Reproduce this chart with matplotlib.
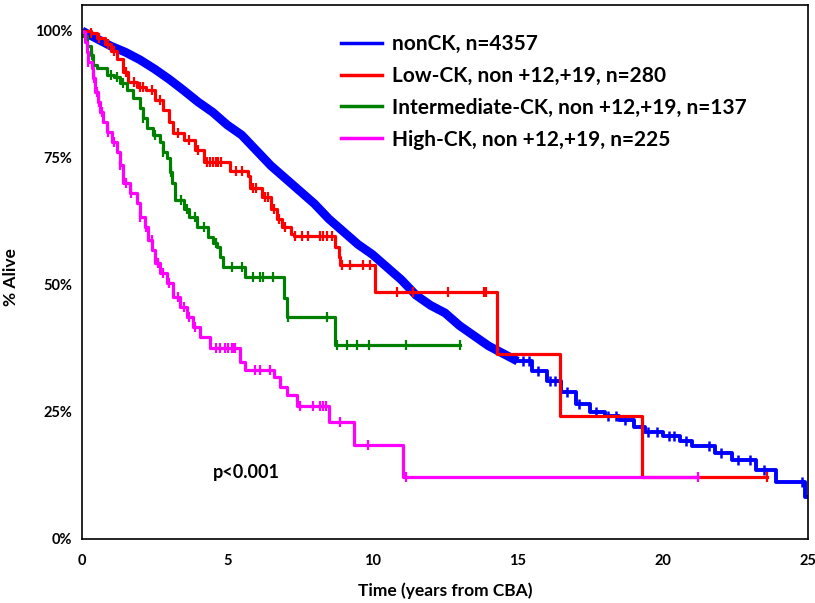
import numpy as np
import matplotlib
matplotlib.use("Agg")
import matplotlib.pyplot as plt
from matplotlib.lines import Line2D

plt.rcParams['font.family'] = ['Lato', 'DejaVu Sans']
plt.rcParams['font.weight'] = 'bold'

# nonCK: dense early part (many censored points -> thick band), sparse tail
blue_t_dense = [0, 0.5, 1.0, 1.5, 2.0, 2.5, 3.0, 3.5, 4.0, 4.5, 5.0, 5.5, 6.0, 6.5, 7.0,
                7.5, 8.0, 8.5, 9.0, 9.5, 10.0, 10.5, 11.0, 11.5, 12.0, 12.5, 13.0, 13.5,
                14.0, 14.5, 15.0]
blue_s_dense = [100, 98.5, 97, 95.8, 94.3, 92.5, 90.5, 88.3, 86, 84, 81.5, 79.5, 76.5, 73.5,
                71, 68.5, 66, 63, 60.5, 58, 56, 53.5, 51, 48, 46, 44.5, 42, 40, 38, 36.5, 35]
blue_t_tail = [15.0, 15.5, 16.0, 16.5, 17.0, 17.5, 18.0, 18.5, 19.0, 19.4, 20.0, 20.6,
               21.0, 21.8, 22.4, 23.2, 23.9, 24.9]
blue_s_tail = [35, 33, 31, 29, 26.5, 25, 24.3, 23.5, 22, 21, 20.3, 19.3, 18.3, 17,
               15.6, 13.6, 11.2, 8.3]
blue_cens = [15.2, 15.4, 15.7, 16.1, 16.3, 16.7, 17.1, 17.7, 18.1, 18.4, 18.7, 19.5, 19.8,
             20.2, 20.4, 20.8, 21.6, 22.0, 22.6, 23.0, 23.5, 24.8]

# Low-CK
red_t = [0, 0.3, 0.5, 0.8, 1.0, 1.2, 1.4, 1.6, 1.9, 2.2, 2.5, 2.8, 3.0, 3.15, 3.5, 3.9, 4.2,
         5.1, 5.7, 5.8, 6.2, 6.5, 6.7, 6.9, 7.2, 7.3, 8.7, 8.85, 8.9, 10.1, 14.3, 16.45, 19.3]
red_s = [100, 99.5, 98.6, 97.5, 96, 94.5, 92, 90, 89, 88.3, 86.5, 84.5, 82, 80, 78.5, 76.5,
         74.2, 72.5, 71.5, 69, 67.3, 65, 63, 61.5, 60, 59.6, 57.5, 55.5, 53.9, 48.6, 36.4,
         24.2, 12.2]
red_cens = [0.3, 0.6, 0.9, 1.1, 1.5, 1.8, 2.0, 2.1, 2.4, 2.7, 3.3, 3.7, 4.0, 4.3, 4.4, 4.5,
            4.6, 4.7, 4.8, 5.3, 5.5, 5.9, 6.0, 6.3, 6.4, 6.6, 6.8, 7.0, 7.34, 7.59, 7.79,
            8.21, 8.31, 8.45, 8.62, 8.97, 9.24, 9.66, 9.93, 10.86, 11.41, 12.59, 13.83, 13.9,
            23.6]
red_end = 23.6

# Intermediate-CK
green_t = [0, 0.05, 0.17, 0.3, 0.38, 0.5, 0.86, 1.1, 1.3, 1.55, 1.76, 2.0, 2.1, 2.24, 2.45,
           2.69, 2.79, 2.93, 3.03, 3.1, 3.21, 3.5, 3.7, 3.97, 4.35, 4.5, 4.66, 4.76, 4.86,
           5.6, 6.95, 7.05, 8.7]
green_s = [100, 99, 97, 95.3, 93.3, 92.7, 91.3, 91, 89.8, 88.4, 86.8, 84.8, 82.9, 80.9, 79.5,
           78.1, 76.2, 75, 72.2, 70, 66.7, 65, 63.4, 61.4, 59.4, 58.3, 57.5, 55.5, 53.5, 51.6,
           47.5, 43.7, 38.2]
green_cens = [0.35, 1.0, 1.2, 1.4, 2.1, 2.5, 2.8, 3.05, 3.4, 3.6, 3.9, 4.2, 4.6, 5.17, 5.52,
              5.9, 6.14, 6.24, 6.59, 7.1, 8.45, 8.79, 9.14, 9.48, 9.9, 11.17, 13.03]
green_end = 13.03

# High-CK
mag_t = [0, 0.05, 0.1, 0.17, 0.2, 0.34, 0.38, 0.45, 0.55, 0.62, 0.72, 0.86, 1.03, 1.2, 1.3,
         1.41, 1.66, 1.9, 2.0, 2.17, 2.28, 2.41, 2.52, 2.69, 2.93, 3.14, 3.38, 3.62, 3.83,
         4.07, 4.4, 5.45, 5.6, 6.6, 6.83, 7.07, 7.41, 8.52, 9.38, 11.05]
mag_s = [100, 99.8, 97.8, 95.9, 93.9, 92.7, 90.7, 88, 86, 84, 82, 80.1, 78.1, 76.2, 73.6, 70,
         68.1, 66.1, 63.4, 61.4, 58.9, 56.9, 54.3, 52.4, 50.4, 47.6, 45.7, 43.7, 41.7, 39.8,
         37.6, 34.9, 33.3, 31.9, 29.9, 28.3, 26.2, 23, 18.5, 12.2]
mag_cens = [0.2, 0.4, 0.5, 0.6, 0.7, 0.9, 1.1, 1.3, 1.5, 1.7, 2.0, 2.2, 2.4, 2.6, 2.8, 3.0,
            3.3, 3.5, 3.7, 3.9, 4.6, 4.76, 4.93, 5.03, 5.17, 5.2, 5.28, 5.97, 6.14, 6.48,
            7.52, 7.97, 8.21, 8.31, 8.41, 8.9, 9.86, 11.17, 21.2]
mag_end = 21.2

labels = ['nonCK, n=4357', 'Low-CK, non +12,+19, n=280',
          'Intermediate-CK, non +12,+19, n=137', 'High-CK, non +12,+19, n=225']
colors = ['#0000ff', '#ff0000', '#008000', '#ff00ff']

xticks = [0, 5, 10, 15, 20, 25]
yticks = [0, 25, 50, 75, 100]

fig = plt.figure(figsize=(8.15, 6.03), dpi=100)
ax = fig.add_axes([82/815, 1-539/603, (808-82)/815, (539-5)/603])


def draw_km(t, s, cens, color, t_end):
    t = np.array(t)
    s = np.array(s)
    ax.step(np.append(t, t_end), np.append(s, s[-1]), where='post', color=color, lw=2.3)
    idx = np.searchsorted(t, cens, side='right') - 1
    ax.plot(cens, s[idx], ls='none', marker='|', ms=7, mew=1.6, color=color)


# blue
ax.plot(blue_t_dense, blue_s_dense, color=colors[0], lw=6.3, solid_capstyle='butt')
bt = np.array(blue_t_tail)
bs = np.array(blue_s_tail)
ax.step(np.append(bt, 25), np.append(bs, bs[-1]), where='post', color=colors[0], lw=2.8)
idx = np.searchsorted(bt, blue_cens, side='right') - 1
ax.plot(blue_cens, bs[idx], ls='none', marker='|', ms=7, mew=1.8, color=colors[0])

draw_km(red_t, red_s, red_cens, colors[1], red_end)
draw_km(green_t, green_s, green_cens, colors[2], green_end)
draw_km(mag_t, mag_s, mag_cens, colors[3], mag_end)

ax.set_xlim(0, 25)
ax.set_ylim(0, 105.1)
ax.set_xticks(xticks)
ax.set_xticklabels([str(v) for v in xticks])
ax.set_yticks(yticks)
ax.set_yticklabels([f'{v}%' for v in yticks])
ax.tick_params(axis='both', length=0, labelsize=10.5)
ax.tick_params(axis='x', pad=11)
ax.tick_params(axis='y', pad=7)
for sp in ax.spines.values():
    sp.set_linewidth(1.2)

ax.set_xlabel('Time (years from CBA)', fontsize=12.5, fontweight='bold')
ax.xaxis.set_label_coords(0.5, -0.082)
ax.set_ylabel('% Alive', fontsize=12.5, fontweight='bold')
ax.yaxis.set_label_coords(-0.087, 0.49)

ax.text(4.5, 13, 'p<0.001', fontsize=13, fontweight='bold', va='center', ha='left')

handles = [Line2D([0], [0], color=c, lw=2.5) for c in colors]
fig.legend(handles, labels, loc='upper left', bbox_to_anchor=(341/815, 1-34/603),
           frameon=False, fontsize=15, handlelength=1.95, handletextpad=0.5,
           labelspacing=0.57, borderpad=0, borderaxespad=0)

fig.savefig('out.png', dpi=100)
